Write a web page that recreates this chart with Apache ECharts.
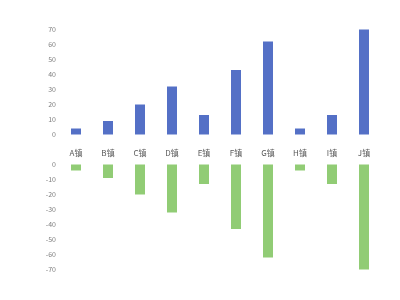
<!DOCTYPE html>
<html><head><meta charset="utf-8">
<script src="https://cdn.jsdelivr.net/npm/echarts@6/dist/echarts.min.js"></script>
<style>html,body{margin:0;padding:0;background:#fff}#c{width:400px;height:300px}</style>
</head><body><div id="c"></div>
<script>
var categories = ['A镇','B镇','C镇','D镇','E镇','F镇','G镇','H镇','I镇','J镇'];
var upValues = [4, 9, 20, 32, 13, 43, 62, 4, 13, 70];
var downValues = [-4, -9, -20, -32, -13, -43, -62, -4, -13, -70];
var chart = echarts.init(document.getElementById('c'), null, {renderer:'canvas'});
var font = '"Noto Sans CJK SC", "Noto Sans", sans-serif';
chart.setOption({
  animation: false,
  textStyle: {fontFamily: font},
  grid: [
    {left: 60, right: 20, top: 29.5, height: 105},
    {left: 60, right: 20, top: 164.5, height: 105}
  ],
  xAxis: [
    {gridIndex: 0, type: 'category', data: categories, axisLine: {show: false}, axisTick: {show: false},
     axisLabel: {show: true, fontSize: 8, color: '#595959', margin: 14, fontFamily: font}},
    {gridIndex: 1, type: 'category', data: categories, axisLine: {show: false}, axisTick: {show: false},
     axisLabel: {show: false}}
  ],
  yAxis: [
    {gridIndex: 0, type: 'value', min: 0, max: 70, interval: 10, splitLine: {show: false},
     axisLine: {show: false}, axisTick: {show: false},
     axisLabel: {fontSize: 7, color: '#7f7f7f', margin: 4, fontFamily: font}},
    {gridIndex: 1, type: 'value', min: -70, max: 0, interval: 10, splitLine: {show: false},
     axisLine: {show: false}, axisTick: {show: false},
     axisLabel: {fontSize: 7, color: '#7f7f7f', margin: 4, fontFamily: font}}
  ],
  series: [
    {type: 'bar', xAxisIndex: 0, yAxisIndex: 0, data: upValues, barWidth: 10, itemStyle: {color: '#5470c6'}},
    {type: 'bar', xAxisIndex: 1, yAxisIndex: 1, data: downValues, barWidth: 10, itemStyle: {color: '#91cc75'}}
  ]
});
</script></body></html>
